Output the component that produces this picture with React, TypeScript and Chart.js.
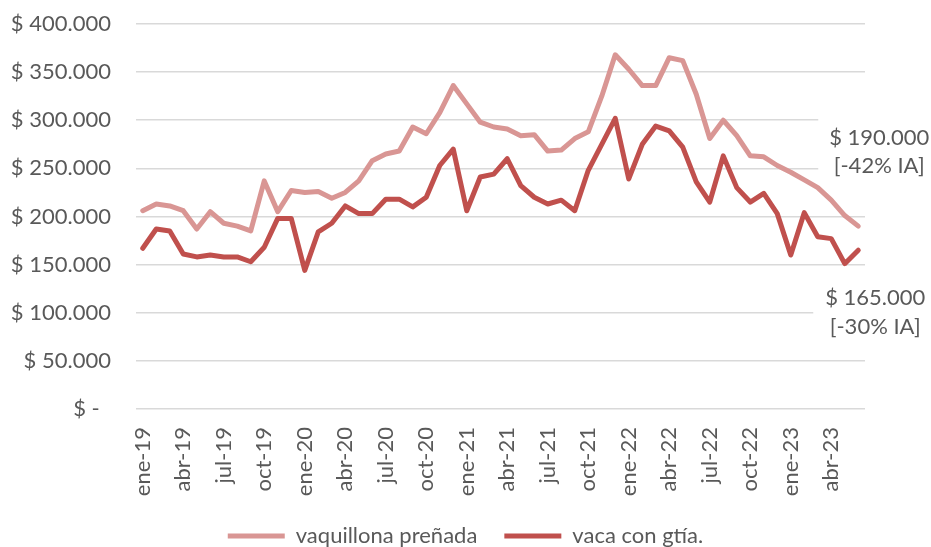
import React, { useEffect, useRef } from "react";
import { Chart, registerables } from "chart.js";

Chart.register(...registerables);

const categories = [
  "ene-19","feb-19","mar-19","abr-19","may-19","jun-19","jul-19","ago-19","sep-19","oct-19","nov-19","dic-19",
  "ene-20","feb-20","mar-20","abr-20","may-20","jun-20","jul-20","ago-20","sep-20","oct-20","nov-20","dic-20",
  "ene-21","feb-21","mar-21","abr-21","may-21","jun-21","jul-21","ago-21","sep-21","oct-21","nov-21","dic-21",
  "ene-22","feb-22","mar-22","abr-22","may-22","jun-22","jul-22","ago-22","sep-22","oct-22","nov-22","dic-22",
  "ene-23","feb-23","mar-23","abr-23","may-23","jun-23",
];

const vaquillona = [
  206, 213, 211, 206, 187, 205, 193, 190, 185, 237, 205, 227,
  225, 226, 219, 225, 237, 258, 265, 268, 293, 286, 308, 336,
  317, 298, 293, 291, 284, 285, 268, 269, 281, 288, 325, 368,
  353, 336, 336, 365, 362, 327, 281, 300, 284, 263, 262, 253,
  246, 238, 230, 217, 201, 190,
].map((v) => v * 1000);

const vaca = [
  167, 187, 185, 161, 158, 160, 158, 158, 153, 168, 198, 198,
  144, 184, 193, 211, 203, 203, 218, 218, 210, 220, 253, 270,
  206, 241, 244, 260, 232, 220, 213, 217, 206, 248, 275, 302,
  239, 275, 294, 289, 272, 236, 215, 263, 230, 215, 224, 203,
  160, 204, 179, 177, 151, 165,
].map((v) => v * 1000);

const seriesNames = ["vaquillona preñada", "vaca con gtía."];
const seriesColors = ["#D99694", "#C0504D"];
const endLabels = [
  ["$ 190.000", "[-42% IA]"],
  ["$ 165.000", "[-30% IA]"],
];

const FONT = "Lato";
const FS = 22;
const TEXT = "#595959";

function fmt(v: number): string {
  if (v === 0) return "$ -  ";
  return "$ " + v.toString().replace(/\B(?=(\d{3})+(?!\d))/g, ".");
}

const endLabelPlugin = {
  id: "endLabels",
  beforeDatasetsDraw(chart: any) {
    const ctx = chart.ctx;
    ctx.save();
    const cfg = [
      { ds: 0, dx: 21, dy: [-88, -60], box: [-61, -116, 70] },
      { ds: 1, dx: 17, dy: [48, 77], box: [-62, 35, 55] },
    ];
    cfg.forEach((c, i) => {
      const meta = chart.getDatasetMeta(c.ds);
      const pt = meta.data[meta.data.length - 1];
      const cx = pt.x + c.dx;
      const cy = pt.y;
      ctx.fillStyle = "#ffffff";
      ctx.fillRect(cx + c.box[0], cy + c.box[1], 200, c.box[2]);
      ctx.fillStyle = TEXT;
      ctx.font = `${FS}px ${FONT}`;
      ctx.textAlign = "center";
      ctx.textBaseline = "middle";
      endLabels[i].forEach((t, k) => ctx.fillText(t, cx, cy + c.dy[k]));
    });
    ctx.restore();
  },
};

export default function App() {
  const ref = useRef<HTMLCanvasElement | null>(null);
  useEffect(() => {
    document.body.style.margin = "0";
    const chart = new Chart(ref.current!, {
      type: "line",
      data: {
        labels: categories,
        datasets: [
          {
            label: seriesNames[0],
            data: vaquillona,
            borderColor: seriesColors[0],
            backgroundColor: seriesColors[0],
            borderWidth: 5,
            pointRadius: 0,
            tension: 0,
            borderJoinStyle: "round",
            borderCapStyle: "round",
          },
          {
            label: seriesNames[1],
            data: vaca,
            borderColor: seriesColors[1],
            backgroundColor: seriesColors[1],
            borderWidth: 5,
            pointRadius: 0,
            tension: 0,
            borderJoinStyle: "round",
            borderCapStyle: "round",
          },
        ],
      },
      options: {
        animation: false,
        responsive: true,
        maintainAspectRatio: false,
        layout: { padding: { top: 24, right: 0, bottom: -10, left: 0 } },
        plugins: {
          tooltip: { enabled: false },
          legend: {
            position: "bottom",
            labels: {
              color: TEXT,
              font: { family: FONT, size: FS },
              boxWidth: 57,
              boxHeight: 5,
              padding: 27,
              useBorderRadius: true,
              borderRadius: 2.5,
              generateLabels(chart: any) {
                return chart.data.datasets.map((d: any, i: number) => ({
                  text: d.label,
                  fillStyle: d.borderColor,
                  strokeStyle: d.borderColor,
                  lineWidth: 0,
                  fontColor: TEXT,
                  datasetIndex: i,
                  hidden: false,
                }));
              },
            },
          },
        },
        scales: {
          x: {
            offset: true,
            grid: { display: false, drawTicks: false },
            border: { display: false },
            afterFit(scale: any) {
              scale.height = 89;
            },
            ticks: {
              autoSkip: false,
              maxRotation: 90,
              minRotation: 90,
              padding: 18,
              color: TEXT,
              font: { family: FONT, size: FS },
              callback(_v: any, i: number) {
                return i % 3 === 0 ? categories[i] : "";
              },
            },
          },
          y: {
            min: 0,
            max: 400000,
            border: { display: false },
            grid: { color: "#D9D9D9", lineWidth: 1.6, drawTicks: false },
            afterFit(scale: any) {
              scale.width = 136;
              scale.paddingTop = 0;
              scale.paddingBottom = 0;
            },
            ticks: {
              stepSize: 50000,
              padding: 25,
              color: TEXT,
              font: { family: FONT, size: FS },
              callback(v: any) {
                return fmt(Number(v));
              },
            },
          },
          yRight: {
            position: "right",
            display: true,
            grid: { display: false },
            border: { display: false },
            ticks: { display: false },
            afterFit(scale: any) {
              scale.width = 66;
              scale.paddingTop = 0;
              scale.paddingBottom = 0;
            },
          },
        },
      },
      plugins: [endLabelPlugin],
    } as any);
    return () => chart.destroy();
  }, []);
  return (
    <div style={{ width: 931, height: 547, position: "relative" }}>
      <canvas ref={ref} />
    </div>
  );
}
